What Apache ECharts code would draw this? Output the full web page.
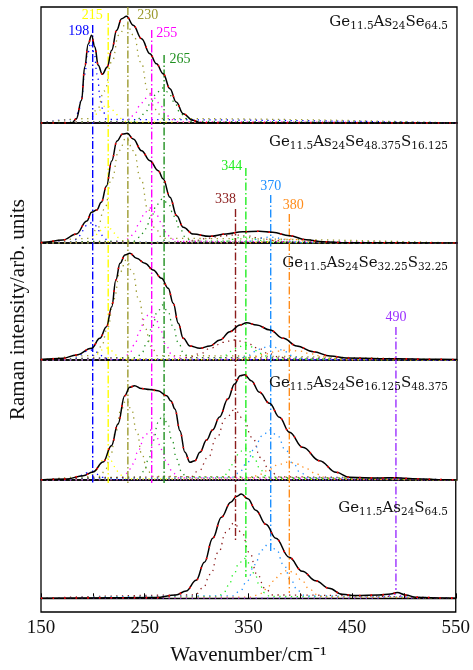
<!DOCTYPE html>
<html>
<head>
<meta charset="utf-8">
<script src="https://cdn.jsdelivr.net/npm/echarts@6/dist/echarts.min.js"></script>
<style>
  html, body { margin: 0; padding: 0; background: #fff; }
  #main { width: 473px; height: 670px; }
</style>
</head>
<body>
<div id="main"></div>
<script>
// Raman spectra of Ge11.5As24Se(64.5-x)Sx glasses, five stacked panels

const xMin = 150, xMax = 550;
const xTickStep = 50;

// deconvolution bands: where the dash-dot line sits / what its label says
const bandPos = [198, 213, 232, 255, 267, 336, 346, 370, 388, 491];
const bandLabels = ['198', '215', '230', '255', '265', '338', '344', '370', '380', '490'];

// composition of each panel, top to bottom: [element, subscript] pairs
const panelNames = [
  [['Ge', '11.5'], ['As', '24'], ['Se', '64.5']],
  [['Ge', '11.5'], ['As', '24'], ['Se', '48.375'], ['S', '16.125']],
  [['Ge', '11.5'], ['As', '24'], ['Se', '32.25'], ['S', '32.25']],
  [['Ge', '11.5'], ['As', '24'], ['Se', '16.125'], ['S', '48.375']],
  [['Ge', '11.5'], ['As', '24'], ['S', '64.5']]
];

// measured spectra [wavenumber, intensity (arb.)]
const p1Measured = [[150,0],[175,0],[180,0.3],[184,4.3],[189,22.7],[192,56],[195.4,79],[198.6,87.7],[201.8,76],[205,57.7],[209,48.7],[213.7,56],[218,72.7],[222.7,92.7],[227.5,104.3],[232.3,106.7],[238.7,97.7],[246.7,84.3],[254.7,69.3],[261,59.3],[267.5,49.3],[274,34.3],[280,21],[286.7,9.3],[296,2.7],[303,0.3],[320,0],[550,0]];
const p2Measured = [[150,0],[152,0.7],[171,3],[184,9],[194,22],[198.6,30.7],[203.5,33],[208,40.7],[213,57],[218,82],[223,102],[228.5,109],[233,109.7],[238.7,104],[246.7,92.3],[254.7,82.3],[262.7,72.3],[267.5,64],[274,45.7],[280.5,27.3],[286.8,15.7],[296.4,9],[312,6.7],[328,9],[344,11.3],[360,11.7],[372.8,10.7],[389,7.3],[405,3.3],[421,1.3],[443,0.3],[550,0]];
const p3Measured = [[150,0],[152,0.7],[171,1.7],[184,5],[198.6,11.7],[206.6,21.7],[213,33.3],[218,53.3],[222,80],[226,96.7],[230.7,105],[235.5,106.7],[241.9,101.7],[249.9,96.7],[257.9,90],[265.9,81.7],[272.3,71.7],[277.2,56.7],[282,36.7],[286.8,21.7],[293.2,14],[302.8,11.7],[312.4,14],[322,20],[331.7,28.3],[341.3,35],[347.7,37.3],[357.4,35],[370.2,30],[383,21.7],[395.9,14],[411.9,8.3],[428,4],[444,2],[476,1.3],[492,1.3],[524,0.7],[550,0.5]];
const p4Measured = [[150,0],[152,0.3],[174.5,1],[190.5,4.3],[200,8],[209.7,18],[217.7,34.3],[224,56],[230.5,84.3],[235.3,92.7],[240,94.3],[246.5,91.5],[254.5,90.5],[262.5,89.3],[270.8,84.3],[275,79],[278.8,71],[283.6,49.3],[288.4,27.7],[293.2,17.7],[298,19.3],[302.8,27.7],[309.2,40],[315,50],[321.7,63],[329.7,81],[336.1,96],[341.5,104.3],[345.7,105.3],[352.1,99.3],[360.1,87.7],[369.7,76.7],[379.3,62.7],[388.9,47.7],[401.7,32.7],[417.8,19.3],[433.8,7.7],[446.6,2.7],[475.5,2],[491.5,2.3],[507.5,1.3],[539.5,0.3],[550,0]];
const p5Measured = [[150,0],[261,0.7],[280,3.3],[290,7.3],[299.6,18],[307.6,36],[315.6,60],[324,81],[333,96],[338.5,101.7],[343.2,104.3],[349.5,99.5],[357.2,88],[366.9,74],[376.5,60],[389.3,41],[402,27],[415,17.5],[427.8,10],[440.6,4],[453.5,2.7],[476,3.3],[487.3,4.3],[493.6,5.7],[501.7,3.3],[511.5,1],[540,0.3],[550,0]];

// fitted bands per panel; pN_bandIdx points into bandPos
const p1BandIdx = [0, 1, 2, 3, 4];
const p1Bands = [
  [[183,3.5],[186,10.8],[189,25.6],[192,48.8],[195,70.4],[198,80],[201,70.4],[204,48.8],[207,25.6],[210,10.8],[213,3.5]],
  [[193,0.8],[197,2.4],[201,5.8],[205,11],[209,15.8],[213,18],[217,15.8],[221,11],[225,5.8],[229,2.4],[233,0.8]],
  [[197,4.4],[204,13.5],[211,32],[218,61],[225,88],[232,100],[239,88],[246,61],[253,32],[260,13.5],[267,4.4]],
  [[230,1.2],[235,3.8],[240,9],[245,17.1],[250,24.6],[255,28],[260,24.6],[265,17.1],[270,9],[275,3.8],[280,1.2]],
  [[239.5,1.5],[245,4.7],[250.5,11.2],[256,21.4],[261.5,30.8],[267,35],[272.5,30.8],[278,21.4],[283.5,11.2],[289,4.7],[294.5,1.5]]
];
const p2BandIdx = [0, 1, 2, 3, 4, 5, 6, 7, 8];
const p2Bands = [
  [[178,0.9],[182,2.7],[186,6.4],[190,12.2],[194,17.6],[198,20],[202,17.6],[206,12.2],[210,6.4],[214,2.7],[218,0.9]],
  [[193,0.7],[197,2.2],[201,5.1],[205,9.8],[209,14.1],[213,16],[217,14.1],[221,9.8],[225,5.1],[229,2.2],[233,0.7]],
  [[197,4.6],[204,14.2],[211,33.6],[218,64],[225,92.4],[232,105],[239,92.4],[246,64],[253,33.6],[260,14.2],[267,4.6]],
  [[230,1.5],[235,4.7],[240,11.2],[245,21.4],[250,30.8],[255,35],[260,30.8],[265,21.4],[270,11.2],[275,4.7],[280,1.5]],
  [[239.5,1.9],[245,5.9],[250.5,14.1],[256,26.8],[261.5,38.7],[267,44],[272.5,38.7],[278,26.8],[283.5,14.1],[289,5.9],[294.5,1.9]],
  [[273.5,0.4],[286,1.1],[298.5,2.6],[311,4.9],[323.5,7],[336,8],[348.5,7],[361,4.9],[373.5,2.6],[386,1.1],[398.5,0.4]],
  [[316,0.3],[322,0.8],[328,1.9],[334,3.7],[340,5.3],[346,6],[352,5.3],[358,3.7],[364,1.9],[370,0.8],[376,0.3]],
  [[340,0.3],[346,0.8],[352,1.9],[358,3.7],[364,5.3],[370,6],[376,5.3],[382,3.7],[388,1.9],[394,0.8],[400,0.3]],
  [[350.5,0.2],[358,0.5],[365.5,1.3],[373,2.4],[380.5,3.5],[388,4],[395.5,3.5],[403,2.4],[410.5,1.3],[418,0.5],[425.5,0.2]]
];
const p3BandIdx = [0, 1, 2, 3, 4, 5, 6, 7, 8, 9];
const p3Bands = [
  [[178,0.4],[182,1.4],[186,3.2],[190,6.1],[194,8.8],[198,10],[202,8.8],[206,6.1],[210,3.2],[214,1.4],[218,0.4]],
  [[195.5,0.5],[199,1.6],[202.5,3.8],[206,7.3],[209.5,10.6],[213,12],[216.5,10.6],[220,7.3],[223.5,3.8],[227,1.6],[230.5,0.5]],
  [[202,4.4],[208,13.5],[214,32],[220,61],[226,88],[232,100],[238,88],[244,61],[250,32],[256,13.5],[262,4.4]],
  [[230,2.1],[235,6.5],[240,15.4],[245,29.3],[250,42.2],[255,48],[260,42.2],[265,29.3],[270,15.4],[275,6.5],[280,2.1]],
  [[242,2.4],[247,7.4],[252,17.6],[257,33.6],[262,48.4],[267,55],[272,48.4],[277,33.6],[282,17.6],[287,7.4],[292,2.4]],
  [[281,0.9],[292,2.7],[303,6.4],[314,12.2],[325,17.6],[336,20],[347,17.6],[358,12.2],[369,6.4],[380,2.7],[391,0.9]],
  [[316,0.7],[322,2],[328,4.8],[334,9.2],[340,13.2],[346,15],[352,13.2],[358,9.2],[364,4.8],[370,2],[376,0.7]],
  [[335,0.6],[342,1.9],[349,4.5],[356,8.5],[363,12.3],[370,14],[377,12.3],[384,8.5],[391,4.5],[398,1.9],[405,0.6]],
  [[333,0.4],[344,1.4],[355,3.2],[366,6.1],[377,8.8],[388,10],[399,8.8],[410,6.1],[421,3.2],[432,1.4],[443,0.4]],
  [[453.5,0.1],[461,0.2],[468.5,0.5],[476,0.9],[483.5,1.3],[491,1.5],[498.5,1.3],[506,0.9],[513.5,0.5],[521,0.2],[528.5,0.1]]
];
const p4BandIdx = [0, 1, 2, 3, 4, 5, 6, 7, 8, 9];
const p4Bands = [
  [[178,0.4],[182,1.1],[186,2.6],[190,4.9],[194,7],[198,8],[202,7],[206,4.9],[210,2.6],[214,1.1],[218,0.4]],
  [[193,1],[197,3],[201,7],[205,13.4],[209,19.4],[213,22],[217,19.4],[221,13.4],[225,7],[229,3],[233,1]],
  [[207,3.5],[212,10.8],[217,25.6],[222,48.8],[227,70.4],[232,80],[237,70.4],[242,48.8],[247,25.6],[252,10.8],[257,3.5]],
  [[227.5,2.2],[233,6.8],[238.5,16],[244,30.5],[249.5,44],[255,50],[260.5,44],[266,30.5],[271.5,16],[277,6.8],[282.5,2.2]],
  [[244.5,2.9],[249,8.8],[253.5,20.8],[258,39.7],[262.5,57.2],[267,65],[271.5,57.2],[276,39.7],[280.5,20.8],[285,8.8],[289.5,2.9]],
  [[293.5,3.1],[302,9.5],[310.5,22.4],[319,42.7],[327.5,61.6],[336,70],[344.5,61.6],[353,42.7],[361.5,22.4],[370,9.5],[378.5,3.1]],
  [[321,1.4],[326,4.3],[331,10.2],[336,19.5],[341,28.2],[346,32],[351,28.2],[356,19.5],[361,10.2],[366,4.3],[371,1.4]],
  [[332.5,2.2],[340,6.8],[347.5,16],[355,30.5],[362.5,44],[370,50],[377.5,44],[385,30.5],[392.5,16],[400,6.8],[407.5,2.2]],
  [[343,0.8],[352,2.4],[361,5.8],[370,11],[379,15.8],[388,18],[397,15.8],[406,11],[415,5.8],[424,2.4],[433,0.8]],
  [[466,0.1],[471,0.3],[476,0.6],[481,1.2],[486,1.8],[491,2],[496,1.8],[501,1.2],[506,0.6],[511,0.3],[516,0.1]]
];
const p5BandIdx = [5, 6, 7, 8, 9];
const p5Bands = [
  [[298.5,3.3],[306,10.1],[313.5,24],[321,45.8],[328.5,66],[336,75],[343.5,66],[351,45.8],[358.5,24],[366,10.1],[373.5,3.3]],
  [[321,1.8],[326,5.4],[331,12.8],[336,24.4],[341,35.2],[346,40],[351,35.2],[356,24.4],[361,12.8],[366,5.4],[371,1.8]],
  [[335,2.4],[342,7.4],[349,17.6],[356,33.6],[363,48.4],[370,55],[377,48.4],[384,33.6],[391,17.6],[398,7.4],[405,2.4]],
  [[353,1.2],[360,3.8],[367,9],[374,17.1],[381,24.6],[388,28],[395,24.6],[402,17.1],[409,9],[416,3.8],[423,1.2]],
  [[476,0.2],[479,0.5],[482,1.3],[485,2.4],[488,3.5],[491,4],[494,3.5],[497,2.4],[500,1.3],[503,0.5],[506,0.2]]
];

// ---------- styling / layout ----------
const bandColors = ['#0000ff', '#ffff00', '#9c9a2e', '#ff00ff', '#1f8f1f', '#8b1c1c', '#22ee22', '#1e90ff', '#ff8c1a', '#9b30ff'];
// dash-dot line extent, px from the top of the plot area
const bandLineSpan = [[18,476],[6,476],[0,476],[23,476],[48,476],[202,533],[161,570],[188,546],[207,586],[320,583]];
// label centre relative to the top of its line
const bandLabelOffset = [[-14,6],[-16,2],[20,8],[15,3],[16,4],[-10,-10],[-14,-2],[0,-9],[4,-9],[0,-10]];

const plotLeft = 41, plotWidth = 416, plotTop = 7, plotHeight = 605;
const panels = [
  { top: 7,   height: 116, yMin: 0,     yMax: 116,   nameTop: 12 },
  { top: 123, height: 120, yMin: 0,     yMax: 120,   nameTop: 132 },
  { top: 243, height: 117, yMin: 0,     yMax: 117,   nameTop: 253 },
  { top: 360, height: 120, yMin: 0,     yMax: 120,   nameTop: 373 },
  { top: 480, height: 132, yMin: -13.7, yMax: 118.3, nameTop: 498 }
];
const measured = [p1Measured, p2Measured, p3Measured, p4Measured, p5Measured];
const bandSets = [[p1BandIdx, p1Bands], [p2BandIdx, p2Bands], [p3BandIdx, p3Bands], [p4BandIdx, p4Bands], [p5BandIdx, p5Bands]];

const serif = 'Liberation Serif';
const nameFont = 'DejaVu Serif';
const textColor = '#111';

const grids = [], xAxes = [], yAxes = [], series = [], titles = [];

panels.forEach(function (p, i) {
  const last = i === panels.length - 1;
  grids.push({
    left: plotLeft, width: plotWidth, top: p.top, height: p.height,
    show: true, borderColor: '#000', borderWidth: 1.3, backgroundColor: 'transparent'
  });
  xAxes.push({
    gridIndex: i, type: 'value', min: xMin, max: xMax, interval: xTickStep,
    show: last,
    axisLine: { show: true, lineStyle: { color: '#000', width: 1.3 } },
    axisTick: { show: true, inside: true, length: 5, lineStyle: { color: '#000' } },
    axisLabel: {
      show: true, margin: 7, color: textColor, fontFamily: serif, fontSize: 19,
      formatter: function (v) { return (v - xMin) % 100 === 0 ? String(v) : ''; }
    },
    splitLine: { show: false },
    name: last ? 'Wavenumber/cm\u207B\u00B9' : '',
    nameLocation: 'middle', nameGap: 33,
    nameTextStyle: { fontFamily: serif, fontSize: 21, color: textColor }
  });
  yAxes.push({ gridIndex: i, type: 'value', min: p.yMin, max: p.yMax, show: false });

  // fitted bands (dotted), each returning to the baseline over the full range
  const idx = bandSets[i][0], bands = bandSets[i][1];
  bands.forEach(function (pts, k) {
    series.push({
      type: 'line', xAxisIndex: i, yAxisIndex: i,
      data: [[xMin, 0]].concat(pts, [[xMax, 0]]),
      smooth: 0.5, smoothMonotone: 'x', showSymbol: false, silent: true, z: 2,
      lineStyle: { color: bandColors[idx[k]], width: 1.3, type: [1.3, 4.5] }
    });
  });
  // measured spectrum (black) with the cumulative fit (red dots) on top
  series.push({
    type: 'line', xAxisIndex: i, yAxisIndex: i, data: measured[i],
    smooth: 0.4, smoothMonotone: 'x', showSymbol: false, silent: true, z: 4,
    lineStyle: { color: '#000', width: 1.5 }
  });
  series.push({
    type: 'line', xAxisIndex: i, yAxisIndex: i, data: measured[i],
    smooth: 0.4, smoothMonotone: 'x', showSymbol: false, silent: true, z: 5,
    lineStyle: { color: '#ff0000', width: 1.6, type: [1.6, 10] }
  });

  // composition label, with subscripts
  const txt = panelNames[i].map(function (e) { return '{m|' + e[0] + '}{s|' + e[1] + '}'; }).join('');
  titles.push({
    text: txt, right: 25, top: p.nameTop, padding: 0,
    textStyle: {
      fontWeight: 'normal',
      rich: {
        m: { fontFamily: nameFont, fontSize: 15, fontWeight: 'normal', lineHeight: 20, color: textColor },
        s: { fontFamily: nameFont, fontSize: 10.5, fontWeight: 'normal', lineHeight: 11, verticalAlign: 'bottom', color: textColor }
      }
    }
  });
});

// overlay grid spanning all panels: dash-dot band markers and the y title
const ov = panels.length;
grids.push({ left: plotLeft, width: plotWidth, top: plotTop, height: plotHeight });
xAxes.push({ gridIndex: ov, type: 'value', min: xMin, max: xMax, show: false });
yAxes.push({
  gridIndex: ov, type: 'value', min: 0, max: plotHeight, inverse: true,
  axisLine: { show: false }, axisTick: { show: false }, axisLabel: { show: false }, splitLine: { show: false },
  name: 'Raman intensity/arb. units', nameLocation: 'middle', nameGap: 14, nameRotate: 90,
  nameTextStyle: { fontFamily: serif, fontSize: 21, color: textColor }
});

bandPos.forEach(function (x, j) {
  const span = bandLineSpan[j];
  series.push({
    type: 'line', xAxisIndex: ov, yAxisIndex: ov, silent: true, z: 3,
    symbol: 'circle', symbolSize: 0.1, itemStyle: { color: 'rgba(0,0,0,0)' },
    lineStyle: { color: bandColors[j], width: 1.4, type: [8, 2.5, 1.5, 2.5] },
    data: [
      {
        value: [x, span[0]],
        label: {
          show: true, position: 'top', distance: 0, align: 'center', verticalAlign: 'middle',
          offset: bandLabelOffset[j], formatter: bandLabels[j],
          fontFamily: serif, fontSize: 14, color: bandColors[j]
        }
      },
      { value: [x, span[1]] }
    ]
  });
});

const chart = echarts.init(document.getElementById('main'), null, { renderer: 'canvas' });
chart.setOption({
  animation: false,
  backgroundColor: '#fff',
  title: titles,
  grid: grids,
  xAxis: xAxes,
  yAxis: yAxes,
  series: series
});
</script>
</body>
</html>
